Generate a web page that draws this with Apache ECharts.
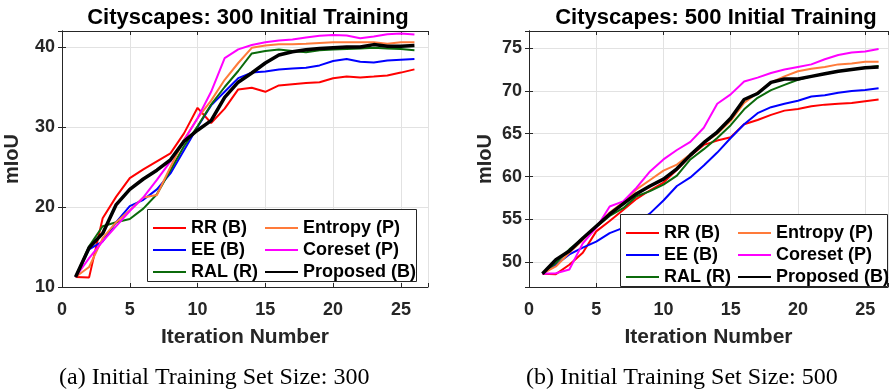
<!DOCTYPE html>
<html>
<head>
<meta charset="utf-8">
<script src="https://cdn.jsdelivr.net/npm/echarts@6/dist/echarts.min.js"></script>
<style>
  html, body { margin: 0; padding: 0; background: #fff; }
  #main { width: 891px; height: 392px; }
</style>
</head>
<body>
<div id="main"></div>
<script>
const iterations = [1, 2, 3, 4, 5, 6, 7, 8, 9, 10, 11, 12, 13, 14, 15, 16, 17, 18, 19, 20, 21, 22, 23, 24, 25, 26];

// 300 initial training images
const rr300 = [11.25, 11.2, 18.6, 21.3, 23.6, 24.7, 25.7, 26.7, 29.2, 32.4, 30.5, 32.3, 34.7, 34.9, 34.4, 35.2, 35.35, 35.5, 35.6, 36.1, 36.3, 36.2, 36.3, 36.45, 36.8, 37.2];
const ee300 = [11.25, 14.7, 15.7, 18.1, 20.1, 20.9, 22.2, 24.2, 27.1, 30.0, 32.7, 34.4, 36.1, 36.8, 36.95, 37.2, 37.3, 37.4, 37.7, 38.25, 38.5, 38.15, 38.05, 38.3, 38.4, 38.5];
const ral300 = [11.25, 15.1, 17.6, 18.1, 18.5, 19.8, 21.6, 24.6, 27.6, 30.1, 32.8, 35.0, 37.0, 39.2, 39.5, 39.7, 39.5, 39.35, 39.6, 39.7, 39.75, 39.8, 39.9, 39.8, 39.75, 39.6];
const entropy300 = [11.25, 12.5, 16.1, 18.1, 19.6, 21.2, 21.5, 25.0, 28.4, 31.1, 33.3, 35.9, 38.0, 39.9, 40.2, 40.35, 40.35, 40.4, 40.5, 40.6, 40.6, 40.6, 40.6, 40.4, 40.6, 40.6];
const coreset300 = [11.25, 13.6, 15.7, 17.6, 19.5, 21.2, 23.4, 25.7, 28.3, 31.1, 34.4, 38.6, 39.7, 40.25, 40.6, 40.8, 40.95, 41.2, 41.4, 41.5, 41.45, 41.1, 41.3, 41.6, 41.7, 41.55];
const proposed300 = [11.25, 14.9, 16.7, 20.3, 22.2, 23.5, 24.6, 25.9, 28.2, 29.6, 30.8, 33.7, 35.6, 36.75, 38.0, 39.0, 39.4, 39.65, 39.8, 39.9, 40.0, 40.0, 40.3, 40.1, 40.1, 40.2];

// 500 initial training images
const rr500 = [48.65, 48.6, 49.7, 51.1, 53.6, 54.8, 56.1, 57.4, 58.4, 59.3, 60.8, 62.4, 63.7, 64.2, 64.6, 66.1, 66.6, 67.2, 67.7, 67.9, 68.2, 68.4, 68.5, 68.6, 68.8, 69.0];
const ee500 = [48.65, 49.7, 50.9, 51.7, 52.4, 53.4, 54.0, 54.6, 55.7, 57.2, 58.9, 59.9, 61.3, 62.8, 64.5, 66.1, 67.4, 68.1, 68.5, 68.85, 69.35, 69.5, 69.8, 70.0, 70.1, 70.3];
const ral500 = [48.65, 49.9, 51.5, 52.8, 54.1, 55.4, 56.3, 57.7, 58.3, 59.05, 60.1, 62.0, 63.2, 64.5, 66.0, 67.85, 69.2, 70.1, 70.7, 71.3, 71.7, 72.0, 72.3, 72.5, 72.7, 72.9];
const entropy500 = [48.65, 49.5, 51.1, 52.6, 54.2, 55.8, 57.0, 58.5, 59.6, 60.7, 61.4, 62.6, 63.9, 65.0, 66.5, 68.6, 69.8, 71.0, 71.7, 72.3, 72.6, 72.8, 73.1, 73.2, 73.4, 73.4];
const coreset500 = [48.65, 48.7, 49.15, 52.2, 54.0, 56.5, 57.1, 58.7, 60.6, 62.0, 63.1, 64.05, 65.7, 68.5, 69.6, 71.1, 71.55, 72.1, 72.5, 72.8, 73.1, 73.7, 74.2, 74.5, 74.6, 74.9];
const proposed500 = [48.65, 50.3, 51.3, 52.8, 54.2, 55.6, 56.8, 58.0, 58.9, 59.7, 60.9, 62.5, 63.95, 65.2, 66.8, 69.0, 69.7, 71.0, 71.4, 71.4, 71.7, 72.0, 72.3, 72.5, 72.7, 72.8];

const titles = ["Cityscapes: 300 Initial Training", "Cityscapes: 500 Initial Training"];
const captions = ["(a) Initial Training Set Size: 300", "(b) Initial Training Set Size: 500"];
const legendLeft = ["RR (B)", "EE (B)", "RAL (R)"];
const legendRight = ["Entropy (P)", "Coreset (P)", "Proposed (B)"];

const methods = [
  { name: "RR (B)", color: "#ff0000", width: 2, data: [rr300, rr500] },
  { name: "EE (B)", color: "#0000ff", width: 2, data: [ee300, ee500] },
  { name: "RAL (R)", color: "#0b6a0b", width: 2, data: [ral300, ral500] },
  { name: "Entropy (P)", color: "#ff7b3a", width: 2, data: [entropy300, entropy500] },
  { name: "Coreset (P)", color: "#ff00ff", width: 2, data: [coreset300, coreset500] },
  { name: "Proposed (B)", color: "#000000", width: 3.5, data: [proposed300, proposed500] }
];

const FONT = "'Liberation Sans', Arial, Helvetica, sans-serif";
const AXIS_COLOR = "#262626";

function pairs(values) {
  return iterations.map((it, i) => [it, values[i]]);
}

function mainX(gridIndex, max) {
  return {
    type: "value", gridIndex: gridIndex, min: 0, max: max, interval: 5,
    name: "Iteration Number", nameLocation: "middle", nameGap: 40,
    nameTextStyle: { fontFamily: FONT, fontWeight: "bold", fontSize: 21, color: AXIS_COLOR },
    axisLine: { show: true, lineStyle: { color: AXIS_COLOR, width: 1 } },
    axisTick: { show: true, inside: true, length: 4, lineStyle: { color: AXIS_COLOR } },
    axisLabel: {
      margin: 14, fontFamily: FONT, fontWeight: "bold", fontSize: 18, color: AXIS_COLOR,
      formatter: v => (v % 5 === 0 ? String(v) : "")
    },
    splitLine: { show: true, lineStyle: { color: "#e2e2e2", width: 1 } }
  };
}

function boxX(gridIndex, max) {
  return {
    type: "value", gridIndex: gridIndex, position: "top", min: 0, max: max, interval: 5,
    axisLine: { show: true, lineStyle: { color: AXIS_COLOR, width: 1 } },
    axisTick: { show: true, inside: true, length: 4, lineStyle: { color: AXIS_COLOR } },
    axisLabel: { show: false }, splitLine: { show: false }
  };
}

function mainY(gridIndex, min, max, nameGap, extra) {
  return Object.assign({
    type: "value", gridIndex: gridIndex, min: min, max: max,
    name: "mIoU", nameLocation: "middle", nameGap: nameGap,
    nameTextStyle: { fontFamily: FONT, fontWeight: "bold", fontSize: 20, color: AXIS_COLOR },
    axisLine: { show: true, lineStyle: { color: AXIS_COLOR, width: 1 } },
    axisTick: { show: true, inside: true, length: 4, lineStyle: { color: AXIS_COLOR } },
    axisLabel: {
      margin: 7, fontFamily: FONT, fontWeight: "bold", fontSize: 18, color: AXIS_COLOR,
      formatter: v => (Math.abs(v % 5) < 1e-6 ? String(v) : "")
    },
    splitLine: { show: true, lineStyle: { color: "#e2e2e2", width: 1 } }
  }, extra);
}

function boxY(gridIndex, min, max, extra) {
  return Object.assign({
    type: "value", gridIndex: gridIndex, position: "right", min: min, max: max,
    axisLine: { show: true, lineStyle: { color: AXIS_COLOR, width: 1 } },
    axisTick: { show: true, inside: true, length: 4, lineStyle: { color: AXIS_COLOR } },
    axisLabel: { show: false }, splitLine: { show: false }
  }, extra);
}

function legendCol(names, left, top) {
  return {
    data: names, orient: "vertical", left: left, top: top, z: 6,
    itemWidth: 33, itemHeight: 14, itemGap: 4, padding: 0,
    selectedMode: false,
    itemStyle: { opacity: 0 },
    textStyle: { fontFamily: FONT, fontWeight: "bold", fontSize: 18, color: "#000" }
  };
}

const series = [];
[0, 1].forEach(g => {
  methods.forEach(m => {
    series.push({
      name: m.name, type: "line", xAxisIndex: g * 2, yAxisIndex: g * 2,
      data: pairs(m.data[g]), symbol: "none", showSymbol: false,
      lineStyle: { color: m.color, width: m.width }, itemStyle: { color: m.color },
      z: m.name === "Proposed (B)" ? 3 : 2, animation: false
    });
  });
});

const chart = echarts.init(document.getElementById("main"));
chart.setOption({
  animation: false,
  backgroundColor: "#fff",
  title: [
    { text: titles[0], left: 243, top: 2, textAlign: "center",
      textStyle: { fontFamily: FONT, fontWeight: "bold", fontSize: 22, color: "#000" } },
    { text: titles[1], left: 711, top: 2, textAlign: "center",
      textStyle: { fontFamily: FONT, fontWeight: "bold", fontSize: 22, color: "#000" } }
  ],
  grid: [
    { left: 62, top: 31, width: 366, height: 256 },
    { left: 529, top: 31, width: 361, height: 256 }
  ],
  xAxis: [mainX(0, 27), boxX(0, 27), mainX(1, 26.7), boxX(1, 26.7)],
  yAxis: [
    mainY(0, 10, 42, 40, { interval: 10 }), boxY(0, 10, 42, { interval: 10 }),
    mainY(1, 47.1, 77, 34, { splitNumber: 6 }), boxY(1, 47.1, 77, { splitNumber: 6 })
  ],
  legend: [
    legendCol(legendLeft, 152, 219),
    legendCol(legendRight, 264, 219),
    legendCol(legendLeft, 625, 224),
    legendCol(legendRight, 737, 224)
  ],
  graphic: [
    { type: "rect", z: 4, shape: { x: 147.5, y: 209.5, width: 269, height: 72 },
      style: { fill: "#fff", stroke: AXIS_COLOR, lineWidth: 1 } },
    { type: "rect", z: 4, shape: { x: 620.5, y: 214.5, width: 267, height: 72 },
      style: { fill: "#fff", stroke: AXIS_COLOR, lineWidth: 1 } },
    { type: "text", left: 59, top: 366, z: 4,
      style: { text: captions[0], font: "24px 'Liberation Serif', 'Times New Roman', serif", fill: "#000" } },
    { type: "text", left: 526, top: 366, z: 4,
      style: { text: captions[1], font: "24px 'Liberation Serif', 'Times New Roman', serif", fill: "#000" } }
  ],
  series: series
});
</script>
</body>
</html>
